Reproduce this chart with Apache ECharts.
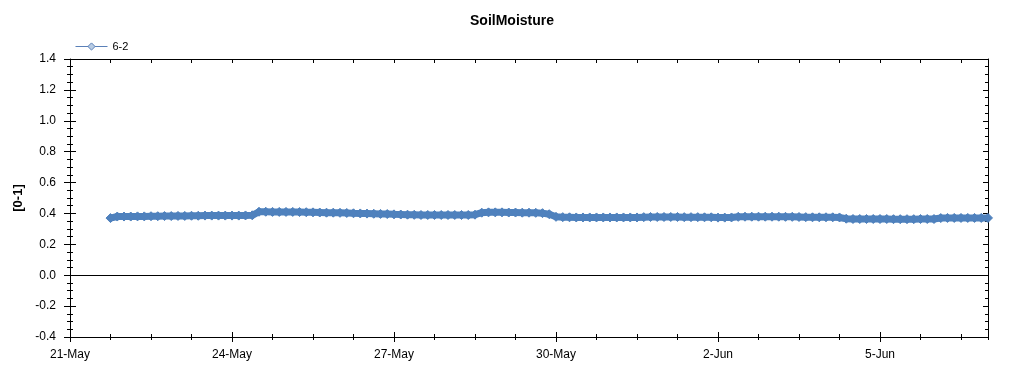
<!DOCTYPE html>
<html>
<head>
<meta charset="utf-8">
<script src="https://cdn.jsdelivr.net/npm/echarts@6/dist/echarts.min.js"></script>
<style>
html,body{margin:0;padding:0;background:#fff;}
#chart{width:1024px;height:375px;}
</style>
</head>
<body>
<div id="chart"></div>
<script>
// ---- data ----
const titleText = 'SoilMoisture';
const seriesName = '6-2';
const yAxisName = '[0-1]';
const monthNames = ['Jan','Feb','Mar','Apr','May','Jun','Jul','Aug','Sep','Oct','Nov','Dec'];
// x is measured in days after 21-May 00:00; one reading every 3 hours from 21-May 18:00
const startDay = 0.75;
const stepDay = 0.125;
const soilValues = [
  0.370, 0.380,                                              // 21-May 18h,21h
  0.380, 0.380, 0.381, 0.381, 0.382, 0.382, 0.383, 0.383,    // 22-May
  0.384, 0.384, 0.385, 0.385, 0.386, 0.386, 0.386, 0.386,    // 23-May
  0.386, 0.386, 0.387, 0.388, 0.411, 0.411, 0.410, 0.410,    // 24-May
  0.410, 0.410, 0.409, 0.408, 0.407, 0.406, 0.405, 0.405,    // 25-May
  0.404, 0.403, 0.401, 0.400, 0.399, 0.398, 0.397, 0.396,    // 26-May
  0.394, 0.393, 0.392, 0.391, 0.390, 0.390, 0.390, 0.390,    // 27-May
  0.390, 0.390, 0.390, 0.390, 0.392, 0.405, 0.407, 0.407,    // 28-May
  0.407, 0.406, 0.406, 0.405, 0.405, 0.404, 0.402, 0.395,    // 29-May
  0.378, 0.376, 0.375, 0.374, 0.374, 0.374, 0.374, 0.374,    // 30-May
  0.374, 0.374, 0.374, 0.374, 0.374, 0.376, 0.377, 0.377,    // 31-May
  0.377, 0.377, 0.377, 0.376, 0.376, 0.376, 0.375, 0.375,    // 1-Jun
  0.373, 0.373, 0.374, 0.378, 0.379, 0.379, 0.379, 0.379,    // 2-Jun
  0.379, 0.379, 0.378, 0.378, 0.377, 0.376, 0.375, 0.375,    // 3-Jun
  0.375, 0.375, 0.374, 0.366, 0.364, 0.364, 0.364, 0.364,    // 4-Jun
  0.364, 0.364, 0.363, 0.363, 0.363, 0.363, 0.364, 0.364,    // 5-Jun
  0.364, 0.370, 0.371, 0.371, 0.371, 0.371, 0.371, 0.371,    // 6-Jun
  0.371                                                      // 7-Jun 00h
];
const xMin = 0, xMax = 17, xMajor = 3, xMinor = 0.75;
const yMin = -0.4, yMax = 1.4, yMajor = 0.2;

// ---- build ----
const baseDate = new Date(2020, 4, 21);
function dayLabel(v) {
  const d = new Date(baseDate.getTime() + Math.round(v) * 86400000);
  return d.getDate() + '-' + monthNames[d.getMonth()];
}
const seriesData = soilValues.map((v, i) => [startDay + i * stepDay, v]);

const font = 'Liberation Sans, Arial, sans-serif';
const axisLineStyle = {color: '#000', width: 1};

function xAx(extra) {
  const ax = Object.assign({
    type: 'value', min: xMin, max: xMax, position: 'bottom',
    axisLabel: {show: false},
    splitLine: {show: false}, axisTick: {show: false}
  }, extra);
  ax.axisLine = Object.assign({show: false, onZero: false}, extra.axisLine || {});
  return ax;
}
function yAx(extra) {
  const ax = Object.assign({
    type: 'value', min: yMin, max: yMax, interval: yMajor, position: 'left',
    axisLabel: {show: false},
    splitLine: {show: false}, axisTick: {show: false}
  }, extra);
  ax.axisLine = Object.assign({show: false, onZero: false}, extra.axisLine || {});
  return ax;
}

const option = {
  animation: false,
  backgroundColor: '#fff',
  title: {
    text: titleText, left: 'center', top: 9,
    textStyle: {fontFamily: font, fontSize: 14, fontWeight: 'bold', color: '#000'}
  },
  legend: {
    left: 70, top: 36, itemWidth: 32, itemHeight: 9, itemGap: 8,
    textStyle: {fontFamily: font, fontSize: 11, color: '#000'},
    data: [{
      name: seriesName,
      itemStyle: {color: '#b8cce4', borderColor: '#5a80b8', borderWidth: 1},
      lineStyle: {color: '#5a80b8', width: 1}
    }]
  },
  grid: {left: 70, right: 36, top: 59, bottom: 38},
  xAxis: [
    xAx({interval: xMajor, axisLine: {show: true, lineStyle: axisLineStyle},
         axisTick: {show: true, length: 5, lineStyle: axisLineStyle},
         axisLabel: {show: true, margin: 12, showMaxLabel: false, color: '#000',
                     fontFamily: font, fontSize: 12, formatter: dayLabel}}),
    xAx({interval: xMajor, axisTick: {show: true, inside: true, length: 5, lineStyle: axisLineStyle}}),
    xAx({interval: xMinor, axisTick: {show: true, length: 3, lineStyle: axisLineStyle}}),
    xAx({interval: xMinor, axisTick: {show: true, inside: true, length: 3, lineStyle: axisLineStyle}}),
    xAx({interval: xMinor, position: 'top', axisLine: {show: true, lineStyle: axisLineStyle},
         axisTick: {show: true, inside: true, length: 4, lineStyle: axisLineStyle}})
  ],
  yAxis: [
    yAx({axisLine: {show: true, lineStyle: axisLineStyle},
         axisTick: {show: true, length: 6, lineStyle: axisLineStyle},
         minorTick: {show: true, splitNumber: 4, length: 3, lineStyle: axisLineStyle},
         axisLabel: {show: true, margin: 14, color: '#000', fontFamily: font, fontSize: 12,
                     formatter: v => v.toFixed(1)},
         name: yAxisName, nameLocation: 'middle', nameGap: 45, nameRotate: 90,
         nameTextStyle: {fontFamily: font, fontSize: 13, fontWeight: 'bold', color: '#000'}}),
    yAx({axisTick: {show: true, inside: true, length: 6, lineStyle: axisLineStyle},
         minorTick: {show: true, splitNumber: 4, length: 3, lineStyle: axisLineStyle}}),
    yAx({position: 'right', axisLine: {show: true, lineStyle: axisLineStyle},
         axisTick: {show: true, inside: true, length: 5, lineStyle: axisLineStyle},
         minorTick: {show: true, splitNumber: 4, length: 3, lineStyle: axisLineStyle}})
  ],
  series: [{
    name: seriesName, type: 'line', xAxisIndex: 0, yAxisIndex: 0,
    data: seriesData,
    showSymbol: true, showAllSymbol: true,
    symbol: 'diamond', symbolSize: 9,
    lineStyle: {color: '#4f81bd', width: 7},
    itemStyle: {color: '#4f81bd', borderColor: '#4f81bd', borderWidth: 1},
    emphasis: {disabled: true},
    markLine: {
      silent: true, symbol: ['none', 'none'], label: {show: false},
      lineStyle: {color: '#000', width: 1, type: 'solid'},
      data: [{yAxis: 0}]
    },
    z: 3
  }]
};
const chart = echarts.init(document.getElementById('chart'), null, {renderer: 'canvas'});
chart.setOption(option);
</script>
</body>
</html>
